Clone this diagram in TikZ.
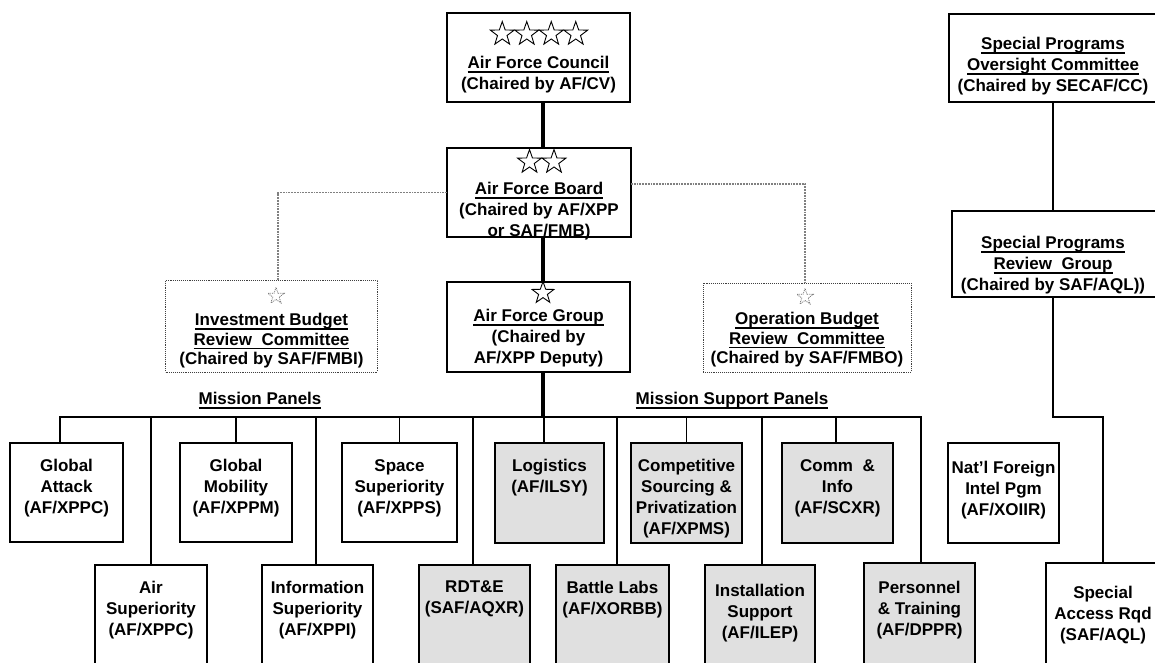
\documentclass[tikz,border=0pt]{standalone}
\usepackage{fontspec}
\setmainfont{Liberation Sans}
\usetikzlibrary{shapes.geometric,calc}
\newsavebox{\ulbox}
\newcommand{\myul}[1]{\sbox{\ulbox}{#1}\rlap{\rule[-4pt]{\wd\ulbox}{1.3pt}}\usebox{\ulbox}}
\begin{document}
\begin{tikzpicture}[x=1pt,y=-1pt,
  box/.style={draw, line width=1.6, rectangle, inner sep=0, outer sep=0},
  shadebox/.style={box, fill=black!12},
  dbox/.style={draw=black!75, densely dotted, line width=0.9, rectangle, inner sep=0, outer sep=0},
  txt/.style={font=\fontsize{17}{21}\selectfont\bfseries, align=center, inner sep=0, anchor=north},
  tighttxt/.style={txt, font=\fontsize{17}{19.5}\selectfont\bfseries},
  conn/.style={line width=1.3},
  spine/.style={line width=4},
  dconn/.style={draw=black!50, line width=1.8, densely dotted},
  bigstar/.style={star, star points=5, star point ratio=2.5, draw, line width=0.9, inner sep=0, minimum size=25},
  dstar/.style={star, star points=5, star point ratio=2.5, draw=black!60, densely dotted, line width=0.8, inner sep=0, minimum size=17}]
\useasboundingbox (0,0) rectangle (1155,662);
\clip (0,0) rectangle (1155,662);
\fill[white] (0,0) rectangle (1155,662);

% main boxes
\node[box, minimum width=183, minimum height=89] (council) at (538.5,57.5) {};
\node[box, minimum width=184, minimum height=89] (board) at (539,192.5) {};
\node[box, minimum width=183, minimum height=90] (group) at (538.5,327) {};
\node[dbox, minimum width=212, minimum height=92] (inv) at (271.5,326) {};
\node[dbox, minimum width=208, minimum height=89] (ops) at (807,327.5) {};
\node[box, minimum width=211, minimum height=88] (spo) at (1054.5,58) {};
\node[box, minimum width=208, minimum height=86] (spr) at (1056,254) {};

% stars
\node[bigstar] (cs1) at (502.25,34) {};
\node[bigstar] (cs2) at (526.75,34) {};
\node[bigstar] (cs3) at (551.25,34) {};
\node[bigstar] (cs4) at (575.75,34) {};
\node[bigstar] (bs1) at (529.5,162) {};
\node[bigstar] (bs2) at (554,162) {};
\node[bigstar, minimum size=23] (gs1) at (543,293) {};
\node[dstar] (is1) at (276,296) {};
\node[dstar] (os1) at (805,297) {};

% main texts
\node[txt] (councilt) at (538.5,56) {\myul{Air Force Council}\\(Chaired by AF/CV)};
\node[txt] (boardt) at (539,182) {\myul{Air Force Board}\\(Chaired by AF/XPP\\or SAF/FMB)};
\node[txt] (groupt) at (538.5,309) {\myul{Air Force Group}\\(Chaired by\\AF/XPP Deputy)};
\node[tighttxt] (invt) at (271.5,313) {\myul{Investment Budget}\\\myul{Review~ Committee}\\(Chaired by SAF/FMBI)};
\node[tighttxt] (opst) at (807,312) {\myul{Operation Budget}\\\myul{Review~ Committee}\\(Chaired by SAF/FMBO)};
\node[txt] (spot) at (1053,37) {\myul{Special Programs}\\\myul{Oversight Committee}\\(Chaired by SECAF/CC)};
\node[txt] (sprt) at (1053,236) {\myul{Special Programs}\\\myul{Review~ Group}\\(Chaired by SAF/AQL))};
\node[txt] (mp) at (260,392) {\myul{Mission Panels}};
\node[txt] (msp) at (732,392) {\myul{Mission Support Panels}};

% panel boxes, top row
\node[box, minimum width=113, minimum height=99] (ga) at (66.5,492.5) {};
\node[box, minimum width=112, minimum height=99] (gm) at (236,492.5) {};
\node[box, minimum width=115, minimum height=99] (ss) at (399.5,492.5) {};
\node[shadebox, minimum width=109, minimum height=100] (lg) at (549.5,493) {};
\node[shadebox, minimum width=111, minimum height=100] (cs) at (686.5,493) {};
\node[shadebox, minimum width=111, minimum height=100] (ci) at (837.5,493) {};
\node[box, minimum width=111, minimum height=100] (nf) at (1003.5,493) {};
% bottom row
\node[box, minimum width=112, minimum height=105] (as) at (151,617.5) {};
\node[box, minimum width=111, minimum height=105] (is) at (317.5,617.5) {};
\node[shadebox, minimum width=111, minimum height=105] (rd) at (474.5,617.5) {};
\node[shadebox, minimum width=113, minimum height=105] (bl) at (612.5,617.5) {};
\node[shadebox, minimum width=110, minimum height=105] (in) at (760,617.5) {};
\node[shadebox, minimum width=111, minimum height=107] (pt) at (919.5,616.5) {};
\node[box, minimum width=114, minimum height=107] (sar) at (1103,616.5) {};

% panel texts
\node[txt] (gat) at (66.5,459) {Global\\Attack\\(AF/XPPC)};
\node[txt] (gmt) at (236,459) {Global\\Mobility\\(AF/XPPM)};
\node[txt] (sst) at (399.5,459) {Space\\Superiority\\(AF/XPPS)};
\node[txt] (lgt) at (549.5,459) {Logistics\\(AF/ILSY)};
\node[txt] (cst) at (686.5,459) {Competitive\\Sourcing \&\\Privatization\\(AF/XPMS)};
\node[txt] (cit) at (837.5,459) {Comm~ \&\\Info\\(AF/SCXR)};
\node[txt] (nft) at (1003.5,461) {Nat’l Foreign\\Intel Pgm\\(AF/XOIIR)};
\node[txt] (ast) at (151,581) {Air\\Superiority\\(AF/XPPC)};
\node[txt] (ist) at (317.5,581) {Information\\Superiority\\(AF/XPPI)};
\node[txt] (rdt) at (474.5,581) {RDT\&E\\(SAF/AQXR)};
\node[txt] (blt) at (612.5,581) {Battle Labs\\(AF/XORBB)};
\node[txt] (int) at (760,584) {Installation\\Support\\(AF/ILEP)};
\node[txt] (ptt) at (919.5,581) {Personnel\\\& Training\\(AF/DPPR)};
\node[txt] (sart) at (1103,586) {Special\\Access Rqd\\(SAF/AQL)};

% coordinates
\coordinate (sp) at (543,0);
\coordinate (bus) at (0,417);
\coordinate (spx) at (1053,0);
\coordinate (invtop) at ([xshift=6.5]inv.north);
\coordinate (opstop) at ([xshift=-2]ops.north);
\coordinate (bre) at ([yshift=8.5]board.east);
\coordinate (dga) at ([xshift=-6.5]ga.north);
\coordinate (dis) at ([xshift=-1.5]is.north);
\coordinate (drd) at ([xshift=-1.5]rd.north);
\coordinate (dlg) at ([xshift=-5.5]lg.north);
\coordinate (dbl) at ([xshift=4.5]bl.north);
\coordinate (din) at ([xshift=2]in.north);
\coordinate (dci) at ([xshift=-1.5]ci.north);
\coordinate (dpt) at ([xshift=1.5]pt.north);

% spine
\draw[spine] (council.south -| sp) -- (board.north -| sp);
\draw[spine] (board.south -| sp) -- (group.north -| sp);
\draw[spine] (group.south -| sp) -- (bus -| sp);

% dotted links
\draw[dconn] (board.west) -| (invtop);
\draw[dconn] (bre) -| (opstop);

% bus and drops
\draw[conn] (dga) -- (dga |- bus) -- (dpt |- bus) -- (dpt);
\draw[conn] (as.north) -- (as.north |- bus);
\draw[conn] (gm.north) -- (gm.north |- bus);
\draw[conn] (dis) -- (dis |- bus);
\draw[conn] (ss.north) -- (ss.north |- bus);
\draw[conn] (drd) -- (drd |- bus);
\draw[conn] (dlg) -- (dlg |- bus);
\draw[conn] (dbl) -- (dbl |- bus);
\draw[conn] (cs.north) -- (cs.north |- bus);
\draw[conn] (din) -- (din |- bus);
\draw[conn] (dci) -- (dci |- bus);

% special programs
\draw[conn] (spo.south -| spx) -- (spr.north -| spx);
\draw[conn] (spr.south -| spx) -- (bus -| spx) -| (sar.north);
\end{tikzpicture}
\end{document}
